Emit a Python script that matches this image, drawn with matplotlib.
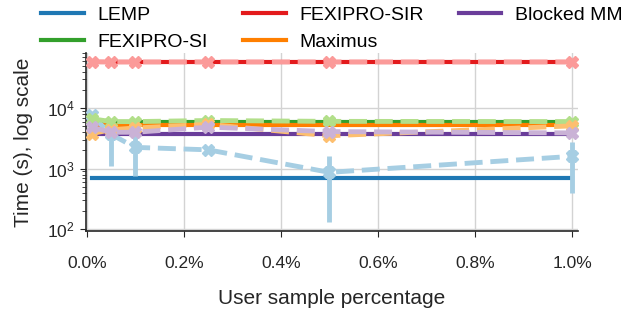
import math

import matplotlib
matplotlib.use("Agg")
import matplotlib.pyplot as plt
from matplotlib.ticker import FuncFormatter, LogLocator, NullFormatter

plt.rcParams["font.family"] = ["Liberation Sans", "DejaVu Sans"]
plt.rcParams["mathtext.default"] = "regular"

# user sample percentage
sample_pct = [0.01, 0.05, 0.1, 0.25, 0.5, 1.0]

# full runtime (s) of each method
names = ["LEMP", "FEXIPRO-SI", "FEXIPRO-SIR", "Maximus", "Blocked MM"]
full_time = [710, 5950, 57000, 5250, 3800]

# runtime estimated from the user sample
est_lemp = [7600, 3700, 2250, 2050, 870, 1600]
est_fexipro_si = [6700, 6000, 6000, 6250, 6050, 6000]
est_fexipro_sir = [58500, 58000, 58000, 58000, 58000, 58000]
est_maximus = [3800, 4400, 4700, 5400, 3500, 5100]
est_blocked_mm = [4850, 4000, 4000, 4850, 4100, 3900]
estimates = [est_lemp, est_fexipro_si, est_fexipro_sir, est_maximus, est_blocked_mm]

# error of the estimate (only really visible for LEMP)
err_lemp = [800, 2600, 1500, 150, 740, 1200]
err_fexipro_si = [100, 100, 100, 100, 100, 100]
err_fexipro_sir = [500, 500, 500, 500, 500, 500]
err_maximus = [100, 100, 100, 100, 100, 100]
err_blocked_mm = [100, 100, 100, 100, 100, 100]
errors = [err_lemp, err_fexipro_si, err_fexipro_sir, err_maximus, err_blocked_mm]

dark = ["#1f78b4", "#33a02c", "#e31a1c", "#ff7f00", "#6a3d9a"]
light = ["#a6cee3", "#b2df8a", "#fb9a99", "#fdbf6f", "#cab2d6"]

fig = plt.figure(figsize=(6.4, 3.09), dpi=100)
ax = fig.add_axes([0.134, 0.252, 0.769, 0.578])

for i, name in enumerate(names):
    ax.plot(sample_pct, [full_time[i]] * len(sample_pct), color=dark[i],
            lw=3, label=name, zorder=3)
for i, name in enumerate(names):
    ax.errorbar(sample_pct, estimates[i], yerr=errors[i], color=light[i],
                ls="--", lw=3.5, marker="X", ms=9, elinewidth=3.5, capsize=0,
                zorder=4)

ax.set_yscale("log")
ax.set_ylim(93, 83000)
ax.set_xlim(-0.002, 1.012)
ax.set_xticks([0.0, 0.2, 0.4, 0.6, 0.8, 1.0])
ax.xaxis.set_major_formatter(FuncFormatter(lambda v, p: "%.1f%%" % v))
ax.yaxis.set_major_locator(LogLocator(base=10))
ax.yaxis.set_major_formatter(
    FuncFormatter(lambda v, p: "$10^{%d}$" % round(math.log10(v))))
ax.yaxis.set_minor_locator(LogLocator(base=10, subs=range(2, 10)))
ax.yaxis.set_minor_formatter(NullFormatter())

ax.grid(True, which="major", color="#d3d3d3", lw=1)
ax.set_axisbelow(True)
for s in ["top", "right"]:
    ax.spines[s].set_visible(False)
for s in ["left", "bottom"]:
    ax.spines[s].set_color("#262626")
    ax.spines[s].set_linewidth(1.2)
ax.tick_params(axis="both", which="major", labelsize=12.5, length=4.5,
               color="#262626", labelcolor="#262626")
ax.tick_params(axis="x", which="major", pad=13.5)
ax.tick_params(axis="y", which="minor", length=3, color="#262626")

ax.set_xlabel("User sample percentage", fontsize=15, color="#262626", labelpad=13)
ax.set_ylabel("Time (s), log scale", fontsize=15, color="#262626", labelpad=10)

ax.legend(loc="lower center", bbox_to_anchor=(0.5, 0.955), ncol=3,
          frameon=False, fontsize=14, handlelength=2.2, handletextpad=0.7,
          columnspacing=1.8, labelspacing=0.48, borderpad=0)

fig.savefig("out.png", dpi=100)
